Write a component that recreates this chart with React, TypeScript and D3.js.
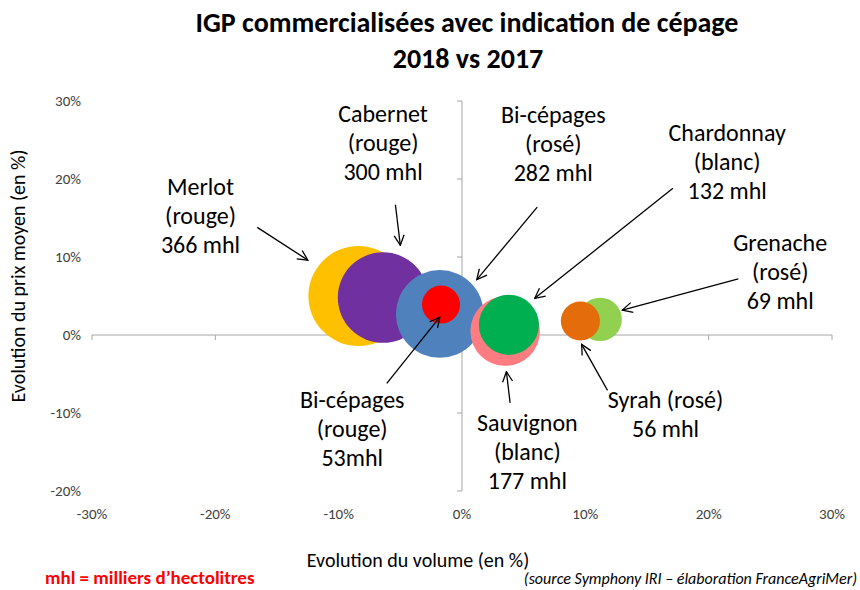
import React from 'react';
import * as d3 from 'd3';

// values (% change 2018 vs 2017, volume in mhl)
const varieties = ['Merlot', 'Cabernet', 'Bi-cépages rosé', 'Bi-cépages rouge', 'Sauvignon', 'Chardonnay', 'Grenache', 'Syrah'];
const volumeChange = [-8.4, -6.4, -1.8, -1.7, 3.5, 3.8, 11.2, 9.6];
const priceChange = [5.0, 4.8, 2.7, 3.9, 0.5, 1.3, 2.0, 1.8];
const volumes = [366, 300, 282, 53, 177, 132, 69, 56];

const xTicks = [-30, -20, -10, 0, 10, 20, 30];
const yTicks = [-20, -10, 0, 10, 20, 30];

const labelLines = [
    ['Merlot', '(rouge)', '366 mhl'],
    ['Cabernet', '(rouge)', '300 mhl'],
    ['Bi-cépages', '(rosé)', '282 mhl'],
    ['Bi-cépages', '(rouge)', '53mhl'],
    ['Sauvignon', '(blanc)', '177 mhl'],
    ['Chardonnay', '(blanc)', '132 mhl'],
    ['Grenache', '(rosé)', '69 mhl'],
    ['Syrah (rosé)', '56 mhl'],
];

const palette = ['#FFC000', '#7030A0', '#4F81BD', '#FF0000', '#FF7C80', '#00B050', '#92D050', '#E46C0A'];

// annotation anchors in data units: label centre, arrow start, arrow end
const annotations = [
    { label: [-21.2, 19.0], from: [-16.6, 13.8], to: [-12.5, 9.6] },
    { label: [-6.4, 28.3], from: [-5.4, 16.7], to: [-5.0, 11.5] },
    { label: [7.4, 28.2], from: [6.1, 16.4], to: [1.2, 7.1] },
    { label: [-8.9, -8.3], from: [-6.1, -6.2], to: [-1.8, 2.3] },
    { label: [5.3, -11.3], from: [3.9, -8.7], to: [3.6, -4.7] },
    { label: [21.5, 25.9], from: [17.1, 18.8], to: [5.9, 4.7] },
    { label: [25.8, 11.8], from: [22.4, 7.2], to: [13.0, 3.2] },
    { label: [16.5, -8.3], from: [11.8, -7.1], to: [9.7, -1.2] },
];

const W = 860;
const H = 590;
const FONT = 'Calibri, Carlito, Lato, sans-serif';

export default function App() {
    const x = d3.scaleLinear().domain([-30, 30]).range([92, 832]);
    const y = d3.scaleLinear().domain([-20, 30]).range([491, 101]);
    const r = d3.scaleSqrt().domain([0, 366]).range([0, 50]);
    const pct = (v: number) => `${v}%`;
    const lineH = 29;

    return (
        <svg width={W} height={H} style={{ position: 'absolute', left: 0, top: 0, background: '#fff' }} fontFamily={FONT}>
            <defs>
                <marker id="arrow" viewBox="0 0 12 12" refX="11" refY="6" markerWidth="12" markerHeight="12"
                    markerUnits="userSpaceOnUse" orient="auto">
                    <path d="M1,1 L11,6 L1,11" fill="none" stroke="#000" strokeWidth={1.3} />
                </marker>
            </defs>

            <text x={467} y={32} textAnchor="middle" fontSize={28} fontWeight="bold" fill="#000">
                IGP commercialisées avec indication de cépage
            </text>
            <text x={468} y={68} textAnchor="middle" fontSize={28} fontWeight="bold" fill="#000">
                2018 vs 2017
            </text>

            {/* axes crossing at zero */}
            <line x1={x(-30)} x2={x(30)} y1={y(0)} y2={y(0)} stroke="#A6A6A6" strokeWidth={1} />
            <line x1={x(0)} x2={x(0)} y1={y(-20)} y2={y(30)} stroke="#A6A6A6" strokeWidth={1} />
            {xTicks.map(t => (
                <line key={'xt' + t} x1={x(t)} x2={x(t)} y1={y(0)} y2={y(0) + 5} stroke="#A6A6A6" />
            ))}
            {yTicks.map(t => (
                <line key={'yt' + t} x1={x(0) - 5} x2={x(0)} y1={y(t)} y2={y(t)} stroke="#A6A6A6" />
            ))}
            {xTicks.map(t => (
                <text key={'xl' + t} x={x(t)} y={519} textAnchor="middle" fontSize={15} fill="#404040">{pct(t)}</text>
            ))}
            {yTicks.map(t => (
                <text key={'yl' + t} x={81} y={y(t) + 5} textAnchor="end" fontSize={15} fill="#404040">{pct(t)}</text>
            ))}

            <text x={418} y={567} textAnchor="middle" fontSize={20} fill="#000">Evolution du volume (en %)</text>
            <text transform={`translate(25,${276}) rotate(-90)`} textAnchor="middle" fontSize={20} fill="#000">
                Evolution du prix moyen (en %)
            </text>

            {/* bubbles */}
            {varieties.map((v, i) => (
                <circle key={v} cx={x(volumeChange[i])} cy={y(priceChange[i])} r={r(volumes[i])} fill={palette[i]} />
            ))}

            {/* labels and arrows */}
            {annotations.map((a, i) => (
                <g key={'a' + i}>
                    <line x1={x(a.from[0])} y1={y(a.from[1])} x2={x(a.to[0])} y2={y(a.to[1])}
                        stroke="#000" strokeWidth={1.3} markerEnd="url(#arrow)" />
                    {labelLines[i].map((t, j) => (
                        <text key={j} x={x(a.label[0])} y={y(a.label[1]) + j * lineH + 8} textAnchor="middle"
                            fontSize={24} fill="#000">{t}</text>
                    ))}
                </g>
            ))}

            <text x={45} y={584} fontSize={19} fontWeight="bold" fill="#FF0000">mhl = milliers d’hectolitres</text>
            <text x={857} y={584} textAnchor="end" fontSize={16} fontStyle="italic" fill="#000">
                (source Symphony IRI – élaboration FranceAgriMer)
            </text>
        </svg>
    );
}
